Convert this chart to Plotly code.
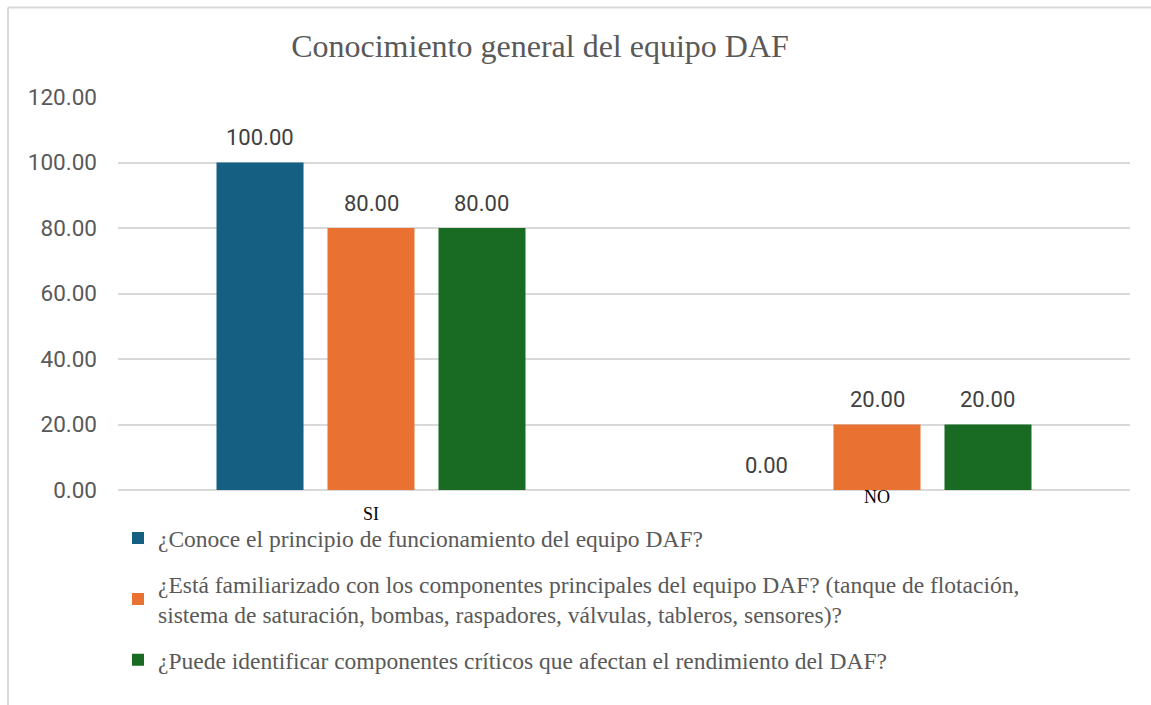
import plotly.graph_objects as go

categorias = ["SI", "NO"]

preguntas = [
    "¿Conoce el principio de funcionamiento del equipo DAF?",
    "¿Está familiarizado con los componentes principales del equipo DAF? (tanque de flotación,<br>sistema de saturación, bombas, raspadores, válvulas, tableros, sensores)?",
    "¿Puede identificar componentes críticos que afectan el rendimiento del DAF?",
]

valores_p1 = [100.00, 0.00]
valores_p2 = [80.00, 20.00]
valores_p3 = [80.00, 20.00]

colores = ["#156082", "#E97132", "#196B24"]

serif = "Liberation Serif, Times New Roman, serif"
sans = "Roboto, Open Sans, sans-serif"

bargap = 0.342
series = [valores_p1, valores_p2, valores_p3]

data = []
for i, vals in enumerate(series):
    trace = go.Bar(
        x=categorias,
        y=vals,
        name=preguntas[i],
        legendgroup="g{0}".format(i),
        marker=dict(color=colores[i], line=dict(width=0)),
    )
    data.append(trace)

annotations = []

# data labels above each bar (slot offset follows the grouped bar layout)
slot = (1 - bargap) / len(series)
for k, vals in enumerate(series):
    for j, v in enumerate(vals):
        annotations.append(dict(
            x=j + (k - (len(series) - 1) / 2) * slot, y=v,
            xref="x", yref="y",
            text="{0:.2f}".format(v), showarrow=False,
            xanchor="center", yanchor="middle", yshift=25,
            font=dict(family=sans, size=22, color="#404040"),
        ))

# category labels (staggered as in the original)
label_y = [-0.062, -0.018]
for cat, ly in zip(categorias, label_y):
    annotations.append(dict(
        x=cat, y=ly, xref="x", yref="paper",
        text=cat, showarrow=False, borderpad=0,
        xanchor="center", yanchor="middle",
        font=dict(family=serif, size=18, color="#000000"),
    ))

# frame of the chart area
shapes = [
    dict(type="line", xref="paper", yref="paper",
         x0=-0.1087, x1=1.03, y0=1.228, y1=1.228,
         line=dict(color="#d9d9d9", width=2)),
    dict(type="line", xref="paper", yref="paper",
         x0=-0.1087, x1=-0.1087, y0=1.228, y1=-0.56,
         line=dict(color="#d9d9d9", width=2)),
]

layout = go.Layout(
    width=1151,
    height=705,
    margin=dict(l=118, r=21, t=97, b=215, autoexpand=False),
    paper_bgcolor="white",
    plot_bgcolor="white",
    title=dict(
        text="Conocimiento general del equipo DAF",
        x=540 / 1151, xanchor="center",
        y=1 - 46 / 705, yanchor="middle",
        font=dict(family=serif, size=32, color="#595959"),
    ),
    barmode="group",
    bargap=bargap,
    bargroupgap=0.216,
    xaxis=dict(
        type="category",
        automargin=False,
        showticklabels=False,
        showgrid=False,
        showline=False,
        zeroline=False,
    ),
    yaxis=dict(
        range=[0, 120],
        dtick=20,
        tickformat=".2f",
        automargin=False,
        showgrid=True,
        gridcolor="#d9d9d9",
        gridwidth=1.5,
        zeroline=True,
        zerolinecolor="#d9d9d9",
        zerolinewidth=1.5,
        showline=False,
        ticklabelstandoff=20,
        tickfont=dict(family=sans, size=22.5, color="#595959"),
    ),
    legend=dict(
        orientation="v",
        x=0.0, xanchor="left",
        y=-0.067, yanchor="top",
        tracegroupgap=12,
        font=dict(family=serif, size=23.5, color="#595959"),
        bgcolor="rgba(0,0,0,0)",
    ),
    annotations=annotations,
    shapes=shapes,
)

fig = go.Figure(data=data, layout=layout)
fig.write_html(
    "out.html",
    config={"displayModeBar": False},
    post_script="document.body.style.margin='0';",
)
